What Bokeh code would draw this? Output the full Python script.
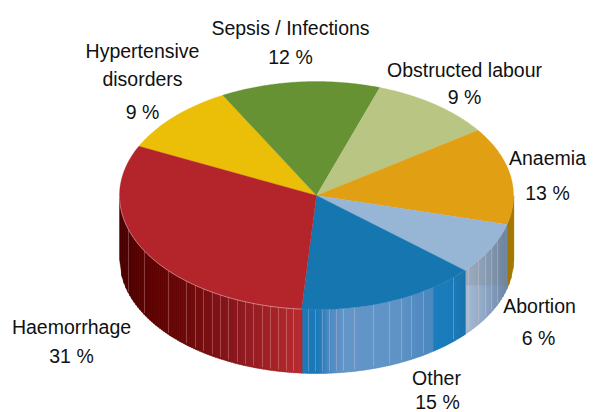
import numpy as np
from bokeh.plotting import figure
from bokeh.models import Range1d, ColumnDataSource
from bokeh.core.properties import value
from bokeh.embed import file_html
from bokeh.resources import INLINE

# data, clockwise from the Haemorrhage / Hypertensive boundary
categories = ["Hypertensive disorders", "Sepsis / Infections", "Obstructed labour",
              "Anaemia", "Abortion", "Other", "Haemorrhage"]
label_percent = [9, 12, 9, 13, 6, 15, 31]
drawn_share = [10.0, 13.1, 10.1, 13.8, 7.3, 14.8, 30.9]

# style
top_colors = ["#ebbf08", "#679234", "#b8c583", "#e19f14", "#97b5d5", "#1576b0", "#b4252b"]
CX, CY, A, B, DEPTH = 316, 195, 197, 114, 64
START = 154.4

wall_stops = {
    "Haemorrhage": [(119, "#470000"), (150, "#5c0000"), (190, "#6c0808"), (230, "#85141a"),
                    (270, "#a02025"), (299, "#b5292e")],
    "Other": [(299, "#1a78b6"), (318, "#1a7ab8"), (328, "#4a88c0"), (342, "#6394c8"), (400, "#5f92c4"),
              (424, "#4f88bf"), (433.9, "#4a88be"), (434, "#1a7dbc"), (452, "#1a7ab8"), (465, "#1c72aa")],
    "Abortion": [(464, "#a8bdd8"), (485, "#8fa7c5"), (505, "#7189a9")],
    "Anaemia": [(504, "#9c7408"), (512, "#a67a00")],
}
rib_x = [128, 144, 168, 186, 195, 203, 212, 220, 228, 237, 245, 253, 262, 270, 278, 286, 293,
         308, 315, 322, 329, 336, 343, 354, 373, 389, 401, 411, 423, 453,
         468, 478, 485, 491, 497]


def hex2rgb(h):
    return np.array([int(h[i:i + 2], 16) for i in (1, 3, 5)], float)


def wall_color(stops, x):
    xs = [s[0] for s in stops]
    cs = np.array([hex2rgb(s[1]) for s in stops])
    r = [np.interp(x, xs, cs[:, k]) for k in range(3)]
    return "#%02x%02x%02x" % tuple(int(round(v)) for v in r)


def rim_y(x):
    return CY + B * np.sqrt(np.clip(1 - ((x - CX) / A) ** 2, 0, 1))


W, H = 616, 412
p = figure(width=W, height=H, output_backend="svg", toolbar_location=None,
           x_range=Range1d(0, W), y_range=Range1d(H, 0),
           min_border=0, outline_line_color=None, background_fill_color="white")
p.axis.visible = False
p.grid.visible = False

# boundaries of the slices
shares = np.array(drawn_share) / sum(drawn_share)
angles = START - np.concatenate([[0], np.cumsum(shares)]) * 360

# side wall: narrow strips
for i, name in enumerate(categories):
    if name not in wall_stops:
        continue
    t0, t1 = np.radians(angles[i]), np.radians(angles[i + 1])
    ts = np.linspace(t0, t1, 400)
    ts = ts[np.sin(ts) <= 0.0]
    xs = CX + A * np.cos(ts)
    xl, xr = xs.min(), xs.max()
    edges = np.arange(xl, xr, 2.0).tolist() + [xr]
    qx, qy, qc = [], [], []
    for a, b in zip(edges[:-1], edges[1:]):
        ya, yb = rim_y(a), rim_y(b)
        qx.append([a, b + .4, b + .4, a])
        qy.append([ya, yb, yb + DEPTH, ya + DEPTH])
        qc.append(wall_color(wall_stops[name], (a + b) / 2))
    p.patches(qx, qy, fill_color=qc, line_color=qc, line_width=0.4)

# the darker upper band of the Abortion wall
bx = np.linspace(CX + A * np.cos(np.radians(angles[5])), 505, 30)
by = rim_y(bx)
p.patch(list(bx) + list(bx[::-1]), list(by) + [285] * 30, fill_color="#7a7a70", fill_alpha=0.2, line_color=None)

# the ribs between the strips
rx = [[x, x] for x in rib_x]
ry = [[rim_y(x), rim_y(x) + DEPTH - 2] for x in rib_x]
p.multi_line(rx, ry, line_color="#ffd8d8", line_alpha=0.28, line_width=1)

# top face
for i, c in enumerate(top_colors):
    ts = np.radians(np.linspace(angles[i], angles[i + 1], 120))
    px = np.concatenate([[CX], CX + A * np.cos(ts)])
    py = np.concatenate([[CY], CY - B * np.sin(ts)])
    p.patch(px, py, fill_color=c, line_color=c, line_width=0.3)

# light rim of the top face along the front
ts = np.radians(np.linspace(180, 265.6, 120))
p.line(CX + A * np.cos(ts), CY - B * np.sin(ts), line_color="#f0c0c0", line_alpha=0.7, line_width=0.8)

# labels
rows = [
    ("Hypertensive", 142, 50), ("disorders", 142, 78), (f"{label_percent[0]} %", 142, 111),
    (categories[1], 290, 27), (f"{label_percent[1]} %", 290, 56),
    (categories[2], 464, 69), (f"{label_percent[2]} %", 464, 96),
    (categories[3], 547, 157), (f"{label_percent[3]} %", 547, 192),
    (categories[4], 539, 305), (f"{label_percent[4]} %", 538, 337),
    (categories[5], 436, 377), (f"{label_percent[5]} %", 437, 401),
    (categories[6], 71, 326), (f"{label_percent[6]} %", 71, 355),
]
src = ColumnDataSource(dict(t=[r[0] for r in rows], x=[r[1] for r in rows], y=[r[2] for r in rows]))
p.text("x", "y", text="t", source=src, text_font=value("Liberation Sans"), text_font_size="19.5px",
       text_color="#111111", text_align="center", text_baseline="middle")

open("out.html", "w").write(file_html(p, INLINE))
